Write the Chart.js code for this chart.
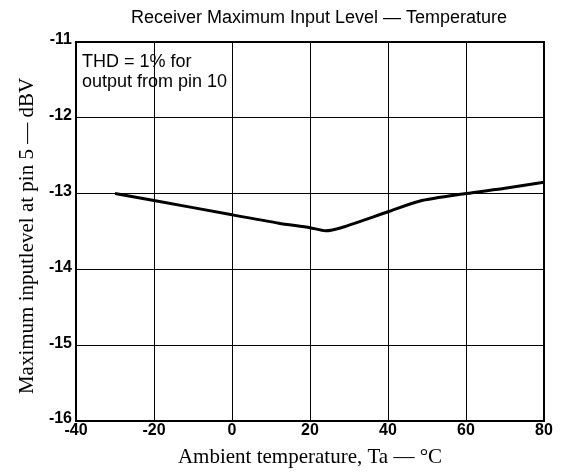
<!DOCTYPE html>
<html><head><meta charset="utf-8">
<script src="https://cdn.jsdelivr.net/npm/chart.js@4.4.0/dist/chart.umd.min.js"></script>
<style>html,body{margin:0;padding:0;background:#fff;}#wrap{width:561px;height:473px;position:relative;}</style>
</head><body><div id="wrap"><canvas id="c" width="561" height="473"></canvas></div>
<script>
const temperatures = [-30, -20, 0, 12, 20, 24, 28, 40, 48, 60, 70, 80];
const inputLevel = [-13.0, -13.09, -13.28, -13.39, -13.45, -13.49, -13.45, -13.24, -13.10, -13.0, -12.93, -12.85];
const xTicks = [-40, -20, 0, 20, 40, 60, 80];
const yTicks = [-16, -15, -14, -13, -12, -11];
const titleText = 'Receiver Maximum Input Level \u2014 Temperature';
const xTitle = 'Ambient temperature, Ta \u2014 \u00B0C';
const yTitle = 'Maximum inputlevel at pin 5 \u2014 dBV';
const noteLines = ['THD = 1% for', 'output from pin 10'];

const framePlugin = {
  id: 'frame',
  afterDraw(chart) {
    const {ctx, chartArea: a} = chart;
    ctx.save();
    ctx.strokeStyle = '#000';
    ctx.lineWidth = 2;
    ctx.strokeRect(a.left, a.top, a.right - a.left, a.bottom - a.top);
    ctx.fillStyle = '#000';
    // main title
    ctx.font = '18px "Liberation Sans", Arial, sans-serif';
    ctx.textAlign = 'center';
    ctx.textBaseline = 'alphabetic';
    ctx.fillText(titleText, 319, 23);
    // y axis title
    ctx.save();
    ctx.translate(33, 236);
    ctx.rotate(-Math.PI / 2);
    ctx.font = '21px "Liberation Serif", "Times New Roman", serif';
    ctx.textAlign = 'center';
    ctx.textBaseline = 'alphabetic';
    ctx.fillText(yTitle, 0, 0);
    ctx.restore();
    // annotation
    ctx.font = '18px "Liberation Sans", Arial, sans-serif';
    ctx.textAlign = 'left';
    const x = a.left + 6;
    const y0 = a.top + 25;
    ctx.fillText(noteLines[0], x, y0);
    ctx.fillText(noteLines[1], x, y0 + 20);
    ctx.restore();
  }
};

new Chart(document.getElementById('c'), {
  type: 'line',
  data: {
    datasets: [{
      data: temperatures.map((t, i) => ({x: t, y: inputLevel[i]})),
      borderColor: '#000',
      borderWidth: 3,
      pointRadius: 0,
      tension: 0.25,
      fill: false
    }]
  },
  options: {
    responsive: false,
    animation: false,
    layout: {padding: {left: 0, right: 17, top: 42, bottom: 0}},
    plugins: {
      legend: {display: false},
      tooltip: {enabled: false},
      title: {display: false}
    },
    scales: {
      x: {
        type: 'linear', min: -40, max: 80,
        afterBuildTicks(s) { s.ticks = xTicks.map(v => ({value: v})); },
        afterFit(s) { s.height = 52; },
        grid: {color: '#000', lineWidth: 1, drawTicks: false},
        border: {display: true, color: '#000', width: 2},
        ticks: {color: '#000', padding: 0, maxRotation: 0,
          font: {family: '"Liberation Sans", Arial, sans-serif', size: 16, weight: 'bold'}},
        title: {display: true, text: xTitle, color: '#000', padding: {top: 0, bottom: 3},
          font: {family: '"Liberation Serif", "Times New Roman", serif', size: 21}}
      },
      y: {
        type: 'linear', min: -16, max: -11,
        afterBuildTicks(s) { s.ticks = yTicks.map(v => ({value: v})); },
        afterFit(s) { s.width = 76; },
        grid: {color: '#000', lineWidth: 1, drawTicks: false},
        border: {display: true, color: '#000', width: 2},
        ticks: {color: '#000', padding: 4, labelOffset: -2,
          font: {family: '"Liberation Sans", Arial, sans-serif', size: 16, weight: 'bold'}},
        title: {display: false, text: yTitle}
      }
    }
  },
  plugins: [framePlugin]
});
</script></body></html>
